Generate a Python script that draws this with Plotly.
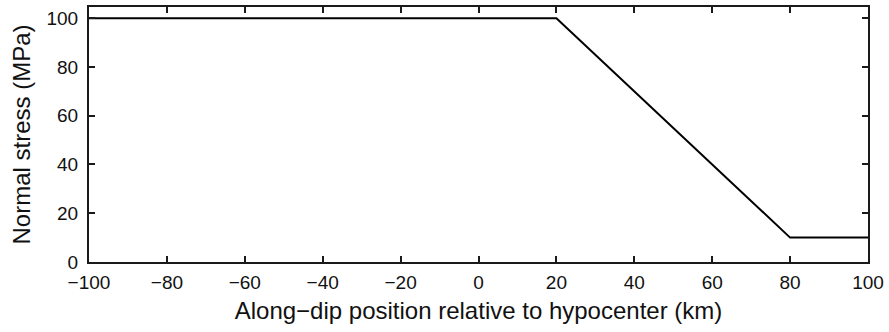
import plotly.graph_objects as go

# Normal stress profile along dip (piecewise linear)
position_km = [-100, 20, 80, 100]
normal_stress_mpa = [100, 100, 10, 10]

x_ticks = [-100, -80, -60, -40, -20, 0, 20, 40, 60, 80, 100]
x_tick_text = ["\u2212100", "\u221280", "\u221260", "\u221240", "\u221220", "0",
               "20", "40", "60", "80", "100"]
y_ticks = [0, 20, 40, 60, 80, 100]

fig = go.Figure()
fig.add_trace(go.Scatter(
    x=position_km, y=normal_stress_mpa, mode="lines",
    line=dict(color="black", width=2), showlegend=False,
))

axis_common = dict(
    showline=True, linecolor="#1a1a1a", linewidth=2, mirror="ticks",
    ticks="inside", ticklen=6, tickwidth=1.5, tickcolor="#1a1a1a",
    showgrid=False, zeroline=False,
    tickfont=dict(family="Liberation Sans, Arial, sans-serif", size=19, color="#111"),
)

fig.update_xaxes(
    range=[-100, 100], tickvals=x_ticks, ticktext=x_tick_text,
    ticklabelstandoff=2,
    title=dict(text="Along\u2212dip position relative to hypocenter (km)",
               font=dict(family="Liberation Sans, Arial, sans-serif", size=24, color="#111"),
               standoff=10),
    **axis_common,
)
fig.update_yaxes(
    range=[0, 104.6], tickvals=y_ticks,
    ticklabelstandoff=5,
    title=dict(text="Normal stress (MPa)",
               font=dict(family="Liberation Sans, Arial, sans-serif", size=24, color="#111"),
               standoff=9),
    **axis_common,
)

fig.update_layout(
    width=889, height=332,
    margin=dict(l=89, r=21, t=5, b=70, pad=0),
    plot_bgcolor="white", paper_bgcolor="white",
)

fig.write_html("out.html")
